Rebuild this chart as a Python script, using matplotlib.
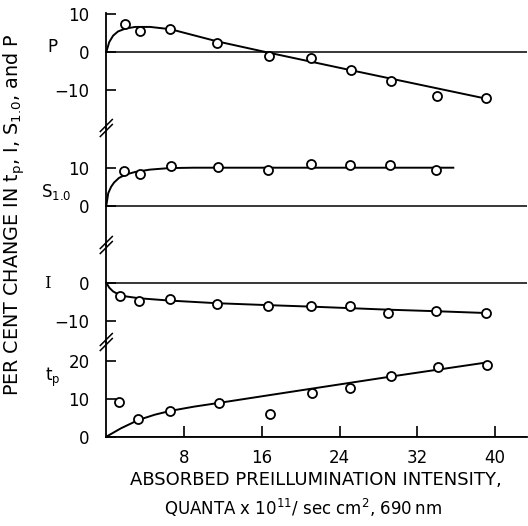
import matplotlib
matplotlib.use('Agg')
import matplotlib.pyplot as plt
from matplotlib.lines import Line2D

# ---------------- data ----------------
p_x = [1.9, 3.5, 6.6, 11.4, 16.7, 21.1, 25.2, 29.3, 34.0, 39.1]
p_y = [7.5, 5.5, 6.0, 2.5, -1.0, -1.5, -4.7, -7.7, -11.6, -12.1]
p_curve_x = [0, 0.3, 0.7, 1.2, 2.0, 3.0, 4.5, 6.6, 9.0, 11.4, 16.2, 25.0, 39.3]
p_curve_y = [0, 2.6, 4.3, 5.4, 6.2, 6.6, 6.6, 6.0, 4.4, 2.8, 0.1, -4.7, -12.4]

s_x = [1.85, 3.5, 6.7, 11.5, 16.6, 21.1, 25.1, 29.2, 33.9]
s_y = [9.1, 8.3, 10.5, 10.1, 9.4, 11.1, 10.7, 10.7, 9.4]
s_curve_x = [0, 0.2, 0.5, 0.8, 1.3, 2.0, 3.0, 4.5, 6.5, 9.0, 35.7]
s_curve_y = [0, 3.3, 5.0, 6.1, 7.3, 8.2, 8.9, 9.5, 9.9, 10.0, 10.0]

i_x = [1.4, 3.4, 6.55, 11.4, 16.6, 21.1, 25.1, 29.0, 33.9, 39.1]
i_y = [-3.5, -4.8, -4.4, -5.6, -6.0, -6.1, -6.0, -8.1, -7.4, -8.1]
i_curve_x = [0, 0.3, 0.7, 1.2, 2.0, 3.4, 6.5, 11.4, 16.6, 21.1, 25.1, 29.0, 33.9, 39.3]
i_curve_y = [0, -1.3, -2.3, -3.0, -3.6, -4.1, -4.7, -5.4, -5.9, -6.3, -6.7, -7.1, -7.5, -8.0]

t_x = [1.3, 3.3, 6.55, 11.6, 16.8, 21.2, 25.1, 29.3, 34.1, 39.2]
t_y = [9.1, 4.6, 6.7, 8.9, 5.9, 11.4, 12.8, 16.1, 18.3, 18.8]
t_curve_x = [0, 1.5, 3.3, 5.0, 6.6, 9.0, 11.6, 20.0, 30.0, 39.3]
t_curve_y = [0, 2.2, 4.4, 5.8, 6.8, 7.9, 8.9, 12.2, 16.1, 19.6]

p_ticks = [10, 0, -10]
s_ticks = [10, 0]
i_ticks = [0, -10]
t_ticks = [20, 10, 0]
x_ticks = [8, 16, 24, 32, 40]

# ---------------- layout ----------------
W, H, DPI = 528, 526, 100
X0, X1 = 106.3, 527.0      # pixel x of x=0 and right edge
PXU = 9.72                 # pixels per x unit
YPX = 3.8                  # pixels per y unit
xmax = (X1 - X0) / PXU

plt.rcParams['font.family'] = ['DejaVu Sans']
fig = plt.figure(figsize=(W / DPI, H / DPI), dpi=DPI)

panels = [
    dict(top=13, bot=128, zero=52.0, ticks=p_ticks, x=p_x, y=p_y, cx=p_curve_x, cy=p_curve_y),
    dict(top=128, bot=245, zero=205.7, ticks=s_ticks, x=s_x, y=s_y, cx=s_curve_x, cy=s_curve_y),
    dict(top=245, bot=342, zero=282.7, ticks=i_ticks, x=i_x, y=i_y, cx=i_curve_x, cy=i_curve_y),
    dict(top=342, bot=436.7, zero=436.7, ticks=t_ticks, x=t_x, y=t_y, cx=t_curve_x, cy=t_curve_y),
]

for k, pn in enumerate(panels):
    last = (k == len(panels) - 1)
    ax = fig.add_axes([X0 / W, 1 - pn['bot'] / H, (X1 - X0) / W, (pn['bot'] - pn['top']) / H])
    ax.set_xlim(0, xmax)
    ax.set_ylim(-(pn['bot'] - pn['zero']) / YPX, (pn['zero'] - pn['top']) / YPX)
    ax.patch.set_visible(False)
    ax.spines['top'].set_visible(False)
    ax.spines['right'].set_visible(False)
    ax.spines['bottom'].set_visible(last)
    ax.spines['left'].set_linewidth(1.3)
    ax.spines['bottom'].set_linewidth(1.3)
    ax.axhline(0, color='k', lw=1.1)
    ax.plot(pn['cx'], pn['cy'], '-', color='k', lw=1.4, clip_on=False)
    ax.plot(pn['x'], pn['y'], 'o', mfc='white', mec='k', ms=6.5, mew=1.3, clip_on=False, zorder=3)
    ax.set_yticks(pn['ticks'])
    ax.set_yticklabels([str(t).replace('-', '\u2212') for t in pn['ticks']])
    ax.tick_params(axis='y', direction='in', length=7, width=1.2, pad=12, labelsize=12)
    if last:
        ax.set_xticks(x_ticks)
        ax.tick_params(axis='x', direction='in', length=8, width=1.2, pad=9, labelsize=12)
    else:
        ax.set_xticks([])

# break marks on the left spine
for b in [128, 245, 342]:
    for off in [-2.5, 2.5]:
        fig.add_artist(Line2D([(X0 - 6) / W, (X0 + 6) / W],
                              [1 - (b + 6 + off) / H, 1 - (b - 6 + off) / H],
                              color='k', lw=1.1, transform=fig.transFigure))

def ftext(x, y, s, **kw):
    fig.text(x / W, 1 - y / H, s, ha='center', va='center', **kw)

# panel labels
ftext(52, 47, 'P', fontsize=12)
ftext(56, 192, r'S$_{\mathregular{1.0}}$', fontsize=12)
ftext(47, 284, 'I', fontsize=12, family='DejaVu Serif')
ftext(53, 377, r't$_{\mathregular{p}}$', fontsize=12)

# axis labels
ftext(14, 215, r'PER CENT CHANGE IN t$_{\mathregular{p}}$, I, S$_{\mathregular{1.0}}$, and P',
      fontsize=13.8, rotation=90)
ftext(316, 480, 'ABSORBED PREILLUMINATION INTENSITY,', fontsize=13)
ftext(303, 508, 'QUANTA x 10$^{\\mathregular{11}}$/ sec cm$^{\\mathregular{2}}$, 690\u2009nm', fontsize=12)

fig.savefig('out.png', dpi=DPI)
